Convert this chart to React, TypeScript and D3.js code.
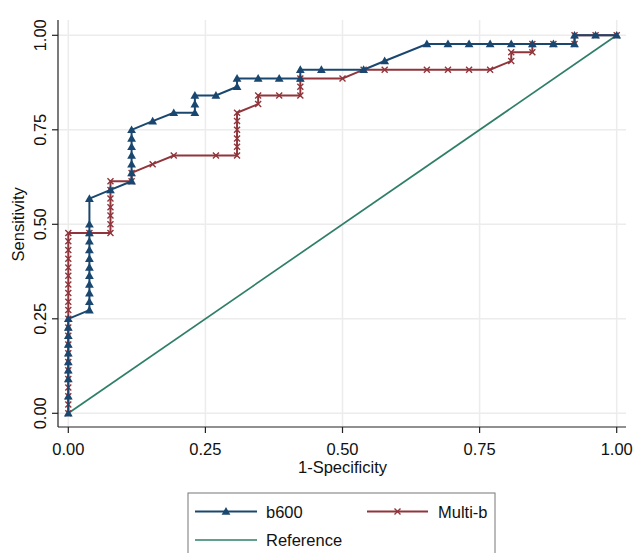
import React from "react";
import * as d3 from "d3";

const xTicks = [0, 0.25, 0.5, 0.75, 1];
const yTicks = [0, 0.25, 0.5, 0.75, 1];
const xTickLabels = ["0.00", "0.25", "0.50", "0.75", "1.00"];
const yTickLabels = ["0.00", "0.25", "0.50", "0.75", "1.00"];

const b600X = [
  0, 0, 0, 0, 0, 0, 0, 0, 0, 0,
  0.0385, 0.0385, 0.0385, 0.0385, 0.0385, 0.0385, 0.0385, 0.0385, 0.0385, 0.0385, 0.0385, 0.0385,
  0.0769,
  0.1154, 0.1154, 0.1154, 0.1154, 0.1154, 0.1154, 0.1154,
  0.1538, 0.1923,
  0.2308, 0.2308, 0.2308,
  0.2692,
  0.3077, 0.3077,
  0.3462, 0.3846,
  0.4231, 0.4231,
  0.4615, 0.5385, 0.5769,
  0.6538, 0.6923, 0.7308, 0.7692, 0.8077, 0.8462, 0.8846, 0.9231,
  0.9231, 0.9615, 1,
];
const b600Y = [
  0, 0.045, 0.091, 0.114, 0.136, 0.159, 0.182, 0.205, 0.227, 0.25,
  0.273, 0.295, 0.318, 0.341, 0.364, 0.386, 0.409, 0.432, 0.455, 0.477, 0.5, 0.568,
  0.591,
  0.614, 0.636, 0.659, 0.682, 0.705, 0.727, 0.75,
  0.773, 0.795,
  0.795, 0.818, 0.841,
  0.841,
  0.864, 0.886,
  0.886, 0.886,
  0.886, 0.909,
  0.909, 0.909, 0.932,
  0.977, 0.977, 0.977, 0.977, 0.977, 0.977, 0.977, 0.977,
  1, 1, 1,
];

const multiX = [
  0, 0, 0, 0, 0, 0, 0, 0, 0, 0, 0, 0, 0, 0, 0, 0, 0, 0, 0, 0, 0, 0,
  0.0385,
  0.0769, 0.0769, 0.0769, 0.0769, 0.0769, 0.0769, 0.0769,
  0.1154, 0.1154,
  0.1538, 0.1923, 0.2692,
  0.3077, 0.3077, 0.3077, 0.3077, 0.3077, 0.3077,
  0.3462, 0.3462,
  0.3846,
  0.4231, 0.4231, 0.4231,
  0.5,
  0.5385, 0.5769, 0.6538, 0.6923, 0.7308, 0.7692,
  0.8077, 0.8077,
  0.8462, 0.8462,
  0.8846,
  0.9231, 0.9231,
  0.9615, 1,
];
const multiY = [
  0, 0.023, 0.045, 0.068, 0.091, 0.114, 0.136, 0.159, 0.182, 0.205, 0.227, 0.25,
  0.273, 0.295, 0.318, 0.341, 0.364, 0.386, 0.409, 0.432, 0.455, 0.477,
  0.477,
  0.477, 0.5, 0.523, 0.545, 0.568, 0.591, 0.614,
  0.614, 0.636,
  0.659, 0.682, 0.682,
  0.682, 0.705, 0.727, 0.75, 0.773, 0.795,
  0.818, 0.841,
  0.841,
  0.841, 0.864, 0.886,
  0.886,
  0.909, 0.909, 0.909, 0.909, 0.909, 0.909,
  0.932, 0.955,
  0.955, 0.977,
  0.977,
  0.977, 1,
  1, 1,
];

const refX = [0, 1];
const refY = [0, 1];

const BLUE = "#1a476f";
const RED = "#90353b";
const GREEN = "#2f7f68";
const FONT = "'Liberation Sans', Arial, sans-serif";

function Triangle({ cx, cy, color }: { cx: number; cy: number; color: string }) {
  const s = 4.4;
  return (
    <path
      d={`M${cx},${cy - s} L${cx + s},${cy + s * 0.75} L${cx - s},${cy + s * 0.75} Z`}
      fill={color}
    />
  );
}

function XMark({ cx, cy, color }: { cx: number; cy: number; color: string }) {
  const s = 3;
  return (
    <path
      d={`M${cx - s},${cy - s} L${cx + s},${cy + s} M${cx - s},${cy + s} L${cx + s},${cy - s}`}
      stroke={color}
      strokeWidth={1.4}
      fill="none"
    />
  );
}

export default function App() {
  const W = 634;
  const H = 553;
  const x = d3.scaleLinear().domain([0, 1]).range([68.3, 616.7]);
  const y = d3.scaleLinear().domain([0, 1]).range([413.3, 35.3]);
  const axisLeftX = 58;
  const axisBottomY = 427;
  const plotTop = 20;
  const plotRight = 626;
  const FS = 16.5;

  const line = d3
    .line<[number, number]>()
    .x((d) => x(d[0]))
    .y((d) => y(d[1]));

  const b600 = b600X.map((v, i) => [v, b600Y[i]] as [number, number]);
  const multi = multiX.map((v, i) => [v, multiY[i]] as [number, number]);
  const ref = refX.map((v, i) => [v, refY[i]] as [number, number]);

  return (
    <svg
      width={W}
      height={H}
      style={{ position: "absolute", left: 0, top: 0, background: "#fff" }}
      fontFamily={FONT}
    >
      <rect x={0} y={0} width={W} height={H} fill="#fff" />
      {/* grid */}
      {xTicks.map((t) => (
        <line key={"gx" + t} x1={x(t)} x2={x(t)} y1={plotTop} y2={axisBottomY} stroke="#ececec" strokeWidth={1.5} />
      ))}
      {yTicks.map((t) => (
        <line key={"gy" + t} x1={axisLeftX} x2={plotRight} y1={y(t)} y2={y(t)} stroke="#ececec" strokeWidth={1.5} />
      ))}
      {/* reference */}
      <path d={line(ref) || ""} stroke={GREEN} strokeWidth={1.7} fill="none" />
      {/* multi-b */}
      <path d={line(multi) || ""} stroke={RED} strokeWidth={2} fill="none" />
      {multi.map((d, i) => (
        <XMark key={"m" + i} cx={x(d[0])} cy={y(d[1])} color={RED} />
      ))}
      {/* b600 */}
      <path d={line(b600) || ""} stroke={BLUE} strokeWidth={2} fill="none" />
      {b600.map((d, i) => (
        <Triangle key={"b" + i} cx={x(d[0])} cy={y(d[1])} color={BLUE} />
      ))}
      {/* axes */}
      <line x1={axisLeftX} x2={axisLeftX} y1={plotTop} y2={axisBottomY} stroke="#222" strokeWidth={1.2} />
      <line x1={axisLeftX} x2={plotRight} y1={axisBottomY} y2={axisBottomY} stroke="#222" strokeWidth={1.2} />
      {yTicks.map((t, i) => (
        <g key={"yt" + t}>
          <line x1={axisLeftX - 6} x2={axisLeftX} y1={y(t)} y2={y(t)} stroke="#222" strokeWidth={1.2} />
          <text
            transform={`translate(${46},${y(t)}) rotate(-90)`}
            textAnchor="middle"
            fontSize={FS}
            fill="#111"
          >
            {yTickLabels[i]}
          </text>
        </g>
      ))}
      {xTicks.map((t, i) => (
        <g key={"xt" + t}>
          <line x1={x(t)} x2={x(t)} y1={axisBottomY} y2={axisBottomY + 6} stroke="#222" strokeWidth={1.2} />
          <text x={x(t)} y={455} textAnchor="middle" fontSize={FS} fill="#111">
            {xTickLabels[i]}
          </text>
        </g>
      ))}
      <text x={x(0.5)} y={473} textAnchor="middle" fontSize={FS} fill="#111">
        1-Specificity
      </text>
      <text transform={`translate(${24},${y(0.5)}) rotate(-90)`} textAnchor="middle" fontSize={FS} fill="#111">
        Sensitivity
      </text>
      {/* legend */}
      <rect x={188} y={493} width={307} height={80} fill="#fff" stroke="#777" strokeWidth={1} />
      <line x1={195} x2={257} y1={511.5} y2={511.5} stroke={BLUE} strokeWidth={2} />
      <Triangle cx={226} cy={511.5} color={BLUE} />
      <text x={266} y={517.5} fontSize={FS} fill="#111">b600</text>
      <line x1={367} x2={428} y1={511.5} y2={511.5} stroke={RED} strokeWidth={2} />
      <XMark cx={397.5} cy={511.5} color={RED} />
      <text x={438} y={517.5} fontSize={FS} fill="#111">Multi-b</text>
      <line x1={195} x2={257} y1={540} y2={540} stroke={GREEN} strokeWidth={1.7} />
      <text x={266} y={546} fontSize={FS} fill="#111">Reference</text>
    </svg>
  );
}
